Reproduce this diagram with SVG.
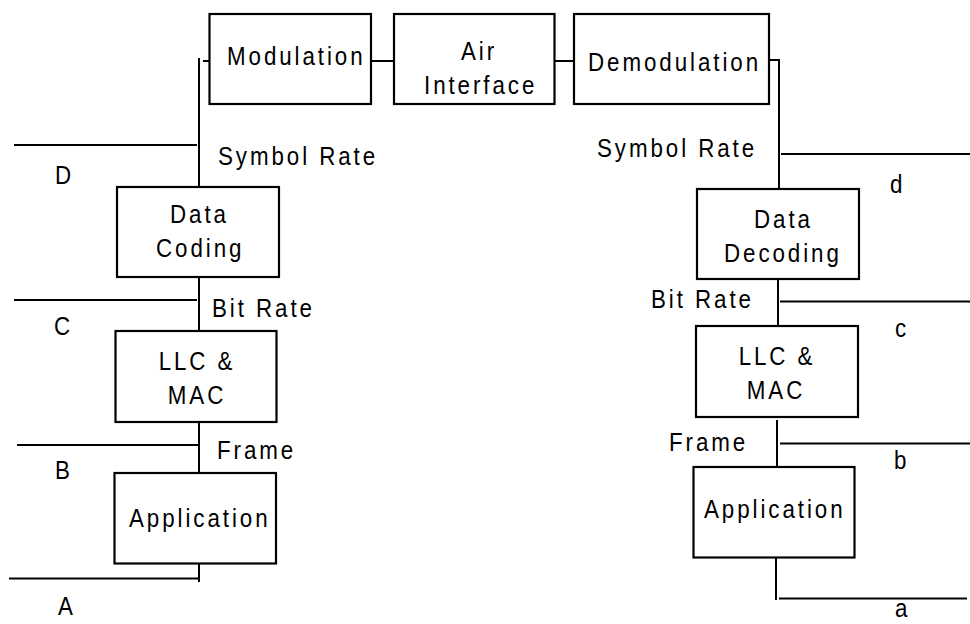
<svg xmlns="http://www.w3.org/2000/svg" width="970" height="624" viewBox="0 0 970 624">
<style>
.box{fill:#fff;stroke:#000;stroke-width:2.2}
.ln{stroke:#000;stroke-width:2;fill:none}
text{font-family:"Liberation Sans",Arial,Helvetica,sans-serif;font-size:26px;letter-spacing:3.4px;fill:#000}
.m{text-anchor:middle}
</style>
<rect width="970" height="624" fill="#fff"/>
<g id="connectors">
<line class="ln" x1="371" y1="61" x2="394" y2="61"/>
<line class="ln" x1="554" y1="61" x2="574" y2="61"/>
<line class="ln" x1="203" y1="61" x2="209" y2="61"/>
<line class="ln" x1="199" y1="58" x2="199" y2="187"/>
<line class="ln" x1="199" y1="277" x2="199" y2="331"/>
<line class="ln" x1="199" y1="422" x2="199" y2="473"/>
<line class="ln" x1="199" y1="563" x2="199" y2="582"/>
<line class="ln" x1="14" y1="145" x2="197" y2="145"/>
<line class="ln" x1="14" y1="300" x2="197" y2="300"/>
<line class="ln" x1="17" y1="445" x2="199" y2="445"/>
<line class="ln" x1="9" y1="578.5" x2="199" y2="578.5"/>
<line class="ln" x1="769" y1="60" x2="779" y2="60"/>
<line class="ln" x1="779" y1="59" x2="779" y2="189"/>
<line class="ln" x1="778" y1="279" x2="778" y2="326"/>
<line class="ln" x1="777" y1="420" x2="777" y2="467"/>
<line class="ln" x1="776" y1="557" x2="776" y2="600"/>
<line class="ln" x1="781" y1="154" x2="970" y2="154"/>
<line class="ln" x1="780" y1="301.5" x2="970" y2="301.5"/>
<line class="ln" x1="780" y1="443.5" x2="970" y2="443.5"/>
<line class="ln" x1="779" y1="598.5" x2="967" y2="598.5"/>
</g>
<g id="modulation"><rect class="box" x="209.5" y="14" width="161.5" height="90"/><text transform="translate(227,65) scale(0.86,1)">Modulation</text></g>
<g id="air-interface"><rect class="box" x="394" y="14" width="160.5" height="90"/><text transform="translate(461,60) scale(0.86,1)">Air</text><text transform="translate(424,94) scale(0.86,1)">Interface</text></g>
<g id="demodulation"><rect class="box" x="574" y="14" width="195" height="90"/><text transform="translate(588,71) scale(0.86,1)">Demodulation</text></g>
<g id="data-coding"><rect class="box" x="117" y="187" width="162" height="90"/><text transform="translate(170,223) scale(0.86,1)">Data</text><text transform="translate(156,257) scale(0.86,1)">Coding</text></g>
<g id="llc-mac-left"><rect class="box" x="115.5" y="331" width="161" height="91"/><text class="m" transform="translate(197,370) scale(0.86,1)">LLC &amp;</text><text class="m" transform="translate(197,404) scale(0.86,1)">MAC</text></g>
<g id="application-left"><rect class="box" x="114.5" y="473" width="161.5" height="90.5"/><text transform="translate(129,527) scale(0.86,1)">Application</text></g>
<g id="data-decoding"><rect class="box" x="697" y="189" width="162" height="90"/><text transform="translate(754,228) scale(0.86,1)">Data</text><text transform="translate(724,262) scale(0.86,1)">Decoding</text></g>
<g id="llc-mac-right"><rect class="box" x="696" y="326" width="162" height="91"/><text class="m" transform="translate(777,365) scale(0.86,1)">LLC &amp;</text><text class="m" transform="translate(776,399) scale(0.86,1)">MAC</text></g>
<g id="application-right"><rect class="box" x="693.5" y="467" width="161" height="90.5"/><text transform="translate(704,518) scale(0.86,1)">Application</text></g>
<g id="labels">
<text transform="translate(218,165) scale(0.86,1)">Symbol Rate</text>
<text transform="translate(212,317) scale(0.86,1)">Bit Rate</text>
<text transform="translate(217,459) scale(0.86,1)">Frame</text>
<text transform="translate(597,157) scale(0.86,1)">Symbol Rate</text>
<text transform="translate(651,308) scale(0.86,1)">Bit Rate</text>
<text transform="translate(669,451) scale(0.86,1)">Frame</text>
<text transform="translate(55,184) scale(0.86,1)">D</text>
<text transform="translate(54,335) scale(0.86,1)">C</text>
<text transform="translate(55,479) scale(0.86,1)">B</text>
<text transform="translate(58,615) scale(0.86,1)">A</text>
<text transform="translate(890,193) scale(0.86,1)">d</text>
<text transform="translate(895,337) scale(0.86,1)">c</text>
<text transform="translate(894,469) scale(0.86,1)">b</text>
<text transform="translate(895,617) scale(0.86,1)">a</text>
</g>
</svg>
